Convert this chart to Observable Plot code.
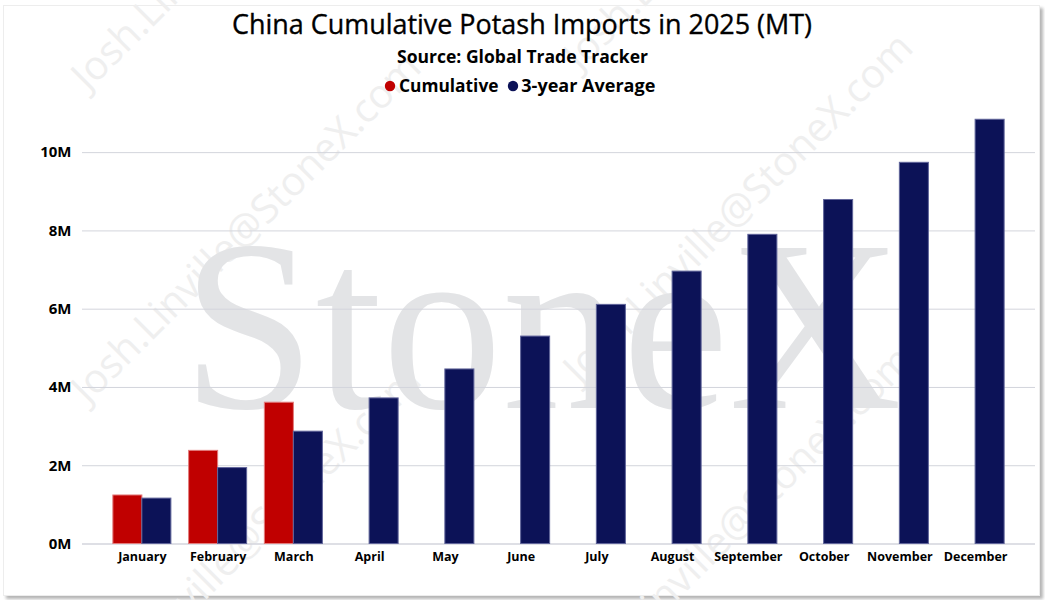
<!DOCTYPE html>
<html><head><meta charset="utf-8">
<script src="https://cdn.jsdelivr.net/npm/d3@7"></script>
<script src="https://cdn.jsdelivr.net/npm/@observablehq/plot@0.6"></script>
<style>
body{margin:0;background:#fff;width:1045px;height:600px;overflow:hidden;font-family:"Open Sans",sans-serif;}
#page{position:relative;width:1045px;height:600px;}
#frame{position:absolute;left:3px;top:5px;width:1035px;height:589px;background:#fff;border:1px solid #ededed;box-shadow:3px 3px 3px #b5b5b5;}
#bg{position:absolute;left:0;top:0;}
#chart{position:absolute;left:0;top:100px;}
</style></head><body>
<div id="page">
  <div id="frame"></div>
  <svg id="bg" width="1045" height="600"></svg>
  <div id="chart"></div>
</div>
<script>
// ---- data ----
const months = ["January","February","March","April","May","June","July","August","September","October","November","December"];
const cumulative = [1.24e6, 2.38e6, 3.61e6, null, null, null, null, null, null, null, null, null];
const average = [1.16e6, 1.94e6, 2.87e6, 3.72e6, 4.46e6, 5.30e6, 6.11e6, 6.96e6, 7.90e6, 8.79e6, 9.74e6, 10.84e6];
const yTicks = [0, 2e6, 4e6, 6e6, 8e6, 10e6];
const seriesNames = ["Cumulative", "3-year Average"];
const seriesColors = ["#c00000", "#0c1257"];
const titleText = "China Cumulative Potash Imports in 2025 (MT)";
const subtitleText = "Source: Global Trade Tracker";
const watermark = "StoneX";
const emailMark = "Josh.Linville@StoneX.com";

const rows = months.map((m, i) => ({month: m, cum: cumulative[i], avg: average[i]}));

// ---- background: watermark, title, legend ----
const NS = "http://www.w3.org/2000/svg";
const bg = document.getElementById("bg");
function el(tag, attrs, text) {
  const e = document.createElementNS(NS, tag);
  for (const k in attrs) e.setAttribute(k, attrs[k]);
  if (text != null) e.textContent = text;
  bg.appendChild(e);
  return e;
}
// diagonal email watermarks
[[88,92],[88,405],[88,718],[580,72],[580,385],[580,698]].forEach(([x,y]) => {
  el("text", {x, y, "font-family":"Open Sans", "font-size":40, fill:"#efefef",
    transform:`rotate(-45 ${x} ${y})`}, emailMark);
});
// big StoneX watermark
el("text", {x:182, y:408, "font-family":"Liberation Serif, Times New Roman, serif", "font-size":243,
  fill:"#e3e4e6", textLength:720, lengthAdjust:"spacingAndGlyphs"}, watermark);
// title & subtitle
el("text", {x:522, y:34.3, "text-anchor":"middle", "font-family":"Open Sans", "font-size":27,
  fill:"#000", stroke:"#000", "stroke-width":0.35, textLength:580, lengthAdjust:"spacingAndGlyphs"}, titleText);
el("text", {x:522.5, y:62.7, "text-anchor":"middle", "font-family":"Open Sans", "font-weight":"bold",
  "font-size":18, fill:"#000", textLength:251, lengthAdjust:"spacingAndGlyphs"}, subtitleText);
// legend
const legendDots = [390, 513], legendTextX = [399, 521.3], legendW = [99.5, 134];
seriesNames.forEach((n, i) => {
  el("circle", {cx:legendDots[i], cy:86, r:5.2, fill:seriesColors[i]});
  el("text", {x:legendTextX[i], y:91.7, "font-family":"Open Sans", "font-weight":"bold", "font-size":17.5,
    fill:"#000", textLength:legendW[i], lengthAdjust:"spacingAndGlyphs"}, n);
});

// ---- chart ----
const chart = Plot.plot({
  width: 1045,
  height: 490,
  marginTop: 13,
  marginBottom: 46.5,
  marginLeft: 82,
  marginRight: 10,
  style: {background: "transparent", color: "#000", fontFamily: "Open Sans", overflow: "visible"},
  x: {domain: months, range: [104, 1013], paddingInner: 0.234, paddingOuter: 0.117, round: false, label: null},
  y: {domain: [0, 11e6], label: null},
  marks: [
    Plot.ruleY(yTicks.slice(1), {stroke: "#d3d5dc", strokeWidth: 1}),
    Plot.ruleY([0], {stroke: "#d3d5dc", strokeWidth: 1.6}),
    Plot.barY(rows.filter(d => d.cum != null), {x: "month", y: "cum", fill: seriesColors[0],
      stroke: "#e27c7c", strokeWidth: 1, insetRight: 29}),
    Plot.barY(rows, {x: "month", y: "avg", fill: seriesColors[1],
      stroke: "#60649a", strokeWidth: 1, insetLeft: 29}),
    Plot.axisX({tickSize: 0, tickPadding: 8, fontSize: 12.5, fontWeight: "bold", label: null}),
    Plot.axisY({ticks: yTicks, tickFormat: d => d / 1e6 + "M", tickSize: 0, tickPadding: 11,
      fontSize: 15, fontWeight: "bold", label: null})
  ]
});
document.getElementById("chart").appendChild(chart);
</script>
</body></html>
